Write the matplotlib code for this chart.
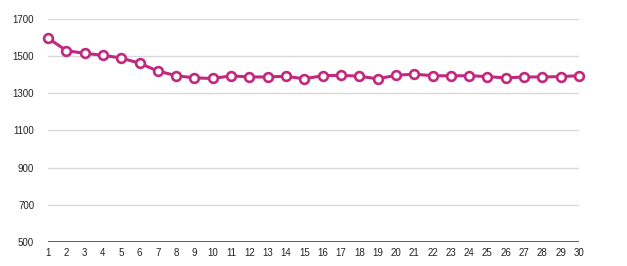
import matplotlib
matplotlib.use('Agg')
import matplotlib.pyplot as plt

days = list(range(1, 31))
values = [1597, 1530, 1515, 1505, 1490, 1462, 1420, 1395, 1383, 1380,
          1394, 1388, 1388, 1392, 1378, 1395, 1397, 1392, 1378, 1397,
          1403, 1395, 1394, 1395, 1390, 1383, 1388, 1388, 1390, 1395]
y_ticks = [500, 700, 900, 1100, 1300, 1500, 1700]

line_color = '#C2287E'
plt.rcParams['font.family'] = ['Liberation Sans', 'DejaVu Sans']

fig = plt.figure(figsize=(6.27, 2.66), dpi=100)
ax = fig.add_axes([0.0766, 0.0902, 0.8468, 0.8384])

# light horizontal grid, darker baseline
for v in y_ticks[1:]:
    ax.axhline(v, color='#d9d9d9', linewidth=1.0, zorder=1)
ax.axhline(500, color='#444444', linewidth=1.2, zorder=1)

ax.plot(days, values, color=line_color, linewidth=2.2,
        marker='o', markersize=6.3, markerfacecolor='white',
        markeredgecolor=line_color, markeredgewidth=1.9,
        clip_on=False, zorder=3)

ax.set_xlim(1, 30)
ax.set_ylim(500, 1700)
ax.set_xticks(days)
ax.set_yticks(y_ticks)
ax.tick_params(axis='both', length=0, labelsize=7, colors='#222222')
ax.tick_params(axis='x', pad=4)
ax.tick_params(axis='y', pad=10)

for s in ax.spines.values():
    s.set_visible(False)

fig.savefig('out.png', dpi=100)
